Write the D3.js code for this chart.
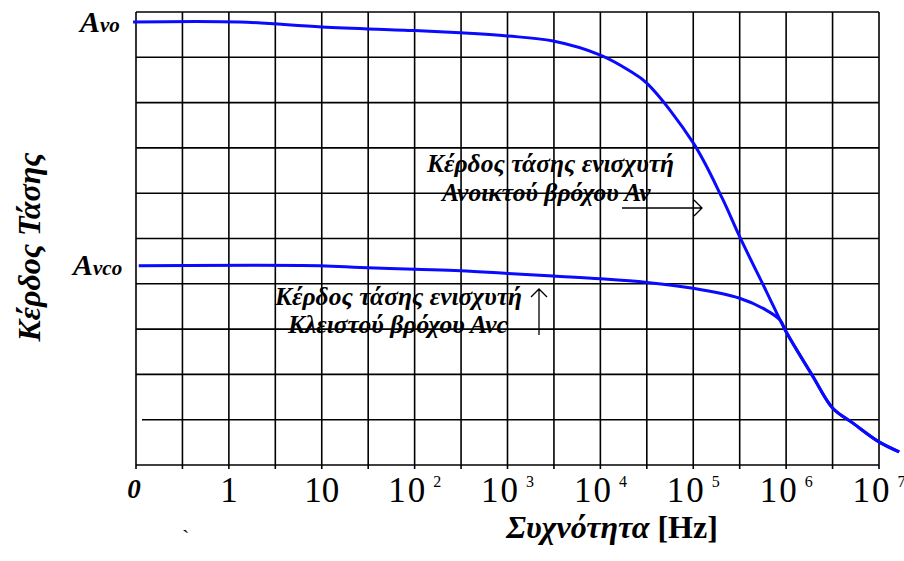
<!DOCTYPE html>
<html>
<head>
<meta charset="utf-8">
<script src="https://cdn.jsdelivr.net/npm/d3@7"></script>
<style>
  body { margin: 0; background: #fff; }
  svg { display: block; font-family: "Liberation Serif", "Times New Roman", serif; }
</style>
</head>
<body>
<div id="chart"></div>
<script>
// frequency axis: "0" sits where 10^-1 would be
var tickExp = [-1, 0, 1, 2, 3, 4, 5, 6, 7];
var gridRows = [0, 1, 2, 3, 4, 5, 6, 7, 8, 9, 10];

// open loop gain Av (gain in grid units, 0..10)
var openFreq = [0.093, 1.3, 10, 100, 310, 1000, 3100, 10000, 20000, 31600, 1e5, 2.05e5, 3.16e5, 6.1e5, 1e6, 1.95e6, 3.16e6, 5.2e6, 1e7, 1.65e7];
var openGain = [9.78, 9.78, 9.67, 9.59, 9.54, 9.47, 9.36, 9.05, 8.72, 8.43, 7.11, 5.89, 5.04, 3.84, 2.94, 1.95, 1.26, 0.93, 0.51, 0.29];

// closed loop gain Avc
var closedFreq = [0.107, 9.5, 26, 100, 310, 1000, 3100, 1e4, 31600, 1e5, 3.16e5, 6.1e5, 8.6e5, 1e6, 1.95e6, 3.16e6, 5.2e6, 1e7, 1.65e7];
var closedGain = [4.40, 4.40, 4.36, 4.32, 4.29, 4.23, 4.17, 4.11, 4.03, 3.90, 3.68, 3.42, 3.20, 2.94, 1.95, 1.26, 0.93, 0.51, 0.29];

var width = 904, height = 561;
var plotLeft = 136, plotRight = 879, plotTop = 12, plotBottom = 465;

var svg = d3.select("#chart").append("svg")
    .attr("width", width)
    .attr("height", height);

var x = d3.scaleLog().domain([0.1, 1e7]).range([plotLeft, plotRight]);
var y = d3.scaleLinear().domain([0, 10]).range([plotBottom, plotTop]);

// grid: half-decade verticals
var vgrid = d3.range(-2, 15).map(function(k){ return Math.pow(10, k / 2); });

svg.append("g").selectAll("line")
    .data(vgrid)
  .enter().append("line")
    .attr("x1", function(d){ return x(d); })
    .attr("x2", function(d){ return x(d); })
    .attr("y1", plotTop)
    .attr("y2", plotBottom + 4)
    .attr("stroke", "#000")
    .attr("stroke-width", 1.6);

svg.append("g").selectAll("line")
    .data(gridRows)
  .enter().append("line")
    .attr("x1", function(d){ return d == 1 ? plotLeft + 6 : plotLeft; })
    .attr("x2", plotRight)
    .attr("y1", function(d){ return y(d); })
    .attr("y2", function(d){ return y(d); })
    .attr("stroke", "#000")
    .attr("stroke-width", 1.6);

// tick labels
var tl = svg.append("g").selectAll("text")
    .data(tickExp)
  .enter().append("text")
    .attr("x", function(d){ return x(Math.pow(10, d)); })
    .attr("y", 502)
    .attr("text-anchor", "middle")
    .attr("font-size", 35)
    .attr("fill", "#000");

tl.each(function(d){
  var t = d3.select(this);
  if (d == -1) {
    t.attr("font-weight", "bold").attr("font-style", "italic")
      .attr("font-size", 27).attr("y", 498).attr("dx", -2).text("0");
  } else if (d == 0) {
    t.text("1");
  } else if (d == 1) {
    t.text("10");
  } else {
    t.append("tspan").attr("letter-spacing", 2).text("10");
    t.append("tspan").attr("dx", 6).attr("dy", -15).attr("font-size", 16).text(d);
  }
});

// curves
var line = d3.line()
    .x(function(d){ return x(d[0]); })
    .y(function(d){ return y(d[1]); })
    .curve(d3.curveCatmullRom.alpha(0.5));

svg.append("path")
    .datum(d3.zip(openFreq, openGain))
    .attr("d", line)
    .attr("fill", "none")
    .attr("stroke", "#0a0aff")
    .attr("stroke-width", 3);

svg.append("path")
    .datum(d3.zip(closedFreq, closedGain))
    .attr("d", line)
    .attr("fill", "none")
    .attr("stroke", "#0a0aff")
    .attr("stroke-width", 3);

// A_vo, A_vco labels
function gainLabel(xp, yp, sub){
  var t = svg.append("text")
      .attr("x", xp)
      .attr("y", yp)
      .attr("font-weight", "bold")
      .attr("font-style", "italic")
      .attr("fill", "#000");
  t.append("tspan").attr("font-size", 30).text("A");
  t.append("tspan").attr("font-size", 21).text(sub);
}
gainLabel(80, 32, "vo");
gainLabel(73, 275, "vco");

// annotations
function note(lines, size){
  var t = svg.append("text")
      .attr("font-weight", "bold")
      .attr("font-style", "italic")
      .attr("font-size", size)
      .attr("fill", "#000");
  lines.forEach(function(l){
    t.append("tspan").attr("x", l[0]).attr("y", l[1]).text(l[2]);
  });
}
note([[427, 172, "Κέρδος τάσης ενισχυτή"], [442, 201, "Ανοικτού βρόχου Αν"]], 25.5);
note([[275, 305, "Κέρδος τάσης ενισχυτή"], [288, 333, "Κλειστού βρόχου Ανc"]], 25.5);

// arrows
svg.append("path")
    .attr("d", "M622,208H702M694,200L702,208L694,216")
    .attr("fill", "none").attr("stroke", "#000").attr("stroke-width", 1.3);
svg.append("path")
    .attr("d", "M539,335V289M531,297L539,289L547,297")
    .attr("fill", "none").attr("stroke", "#000").attr("stroke-width", 1.3);

// axis titles
svg.append("text")
    .attr("transform", "translate(40,247) rotate(-90)")
    .attr("text-anchor", "middle")
    .attr("font-weight", "bold")
    .attr("font-style", "italic")
    .attr("font-size", 32)
    .attr("fill", "#000")
    .text("Κέρδος Τάσης");

var xt = svg.append("text")
    .attr("x", 612)
    .attr("y", 538)
    .attr("text-anchor", "middle")
    .attr("font-weight", "bold")
    .attr("font-size", 32)
    .attr("fill", "#000");
xt.append("tspan").attr("font-style", "italic").text("Συχνότητα");
xt.append("tspan").text(" [Hz]");

svg.append("text")
    .attr("x", 182)
    .attr("y", 545)
    .attr("font-size", 22)
    .attr("fill", "#000")
    .text("`");
</script>
</body>
</html>
